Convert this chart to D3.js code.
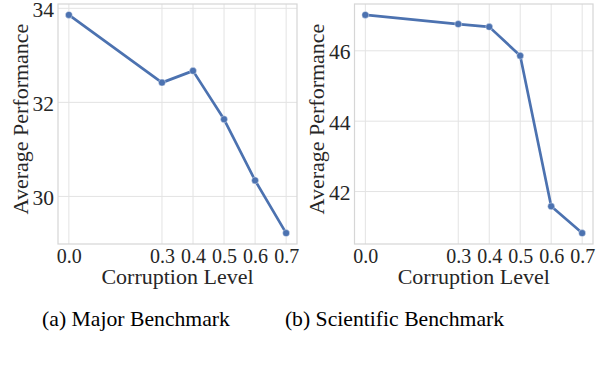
<!DOCTYPE html>
<html>
<head>
<meta charset="utf-8">
<script src="https://cdn.jsdelivr.net/npm/d3@7"></script>
<style>
  html, body { margin: 0; padding: 0; background: #fff; }
  svg { display: block; }
  text { font-family: "Liberation Serif", "Times New Roman", serif; fill: #262626; }
</style>
</head>
<body>
<svg id="chart" width="596" height="366"></svg>
<script>
const corruptionLevels = [0.0, 0.3, 0.4, 0.5, 0.6, 0.7];
const xTickLabels = ["0.0", "0.3", "0.4", "0.5", "0.6", "0.7"];
const majorValues = [33.86, 32.42, 32.67, 31.64, 30.34, 29.22];
const scientificValues = [47.02, 46.76, 46.68, 45.86, 41.58, 40.82];
const majorYTicks = [30, 32, 34];
const scientificYTicks = [42, 44, 46];
const captions = ["(a) Major Benchmark", "(b) Scientific Benchmark"];
const xLabel = "Corruption Level";
const yLabel = "Average Performance";

const svg = d3.select("#chart");
const lineColor = "#4c72b0";
const gridColor = "#e3e3e3";

const panels = [
  { values: majorValues, yTicks: majorYTicks, caption: captions[0], left: 58, right: 297, capX: 136 },
  { values: scientificValues, yTicks: scientificYTicks, caption: captions[1], left: 354.5, right: 593, capX: 394.5 }
];
const plotTop = 4, plotBottom = 244;

panels.forEach(p => {
  const g = svg.append("g");
  const xmin = d3.min(corruptionLevels), xmax = d3.max(corruptionLevels);
  const xm = (xmax - xmin) * 0.05;
  const x = d3.scaleLinear().domain([xmin - xm, xmax + xm]).range([p.left, p.right]);
  const ymin = d3.min(p.values), ymax = d3.max(p.values);
  const ym = (ymax - ymin) * 0.05;
  const y = d3.scaleLinear().domain([ymin - ym, ymax + ym]).range([plotBottom, plotTop]);

  // grid
  g.append("g").selectAll("line").data(corruptionLevels).join("line")
    .attr("x1", d => x(d)).attr("x2", d => x(d))
    .attr("y1", plotTop).attr("y2", plotBottom)
    .attr("stroke", gridColor).attr("stroke-width", 1);
  g.append("g").selectAll("line").data(p.yTicks).join("line")
    .attr("x1", p.left).attr("x2", p.right)
    .attr("y1", d => y(d)).attr("y2", d => y(d))
    .attr("stroke", gridColor).attr("stroke-width", 1);

  // frame
  g.append("rect").attr("x", p.left).attr("y", plotTop)
    .attr("width", p.right - p.left).attr("height", plotBottom - plotTop)
    .attr("fill", "none").attr("stroke", "#d6d6d6").attr("stroke-width", 1.2);

  // axes (no tick marks, labels only)
  const xAxis = d3.axisBottom(x).tickValues(corruptionLevels)
    .tickFormat((d, i) => xTickLabels[i]).tickSize(0).tickPadding(0);
  const xa = g.append("g").attr("transform", `translate(0,${plotBottom})`).call(xAxis);
  xa.select(".domain").remove();
  xa.selectAll("text").attr("font-size", "20px").attr("dy", null).attr("y", 18.5)
    .style("font-family", '"Liberation Serif", serif').attr("fill", "#262626");

  const yAxis = d3.axisLeft(y).tickValues(p.yTicks).tickFormat(d3.format("d")).tickSize(0).tickPadding(4);
  const ya = g.append("g").attr("transform", `translate(${p.left},0)`).call(yAxis);
  ya.select(".domain").remove();
  ya.selectAll("text").attr("font-size", "21.5px").attr("dy", "0.38em")
    .style("font-family", '"Liberation Serif", serif').attr("fill", "#262626");

  // line
  const line = d3.line().x((d, i) => x(corruptionLevels[i])).y(d => y(d));
  g.append("path").datum(p.values).attr("d", line)
    .attr("fill", "none").attr("stroke", lineColor).attr("stroke-width", 2.7)
    .attr("stroke-linejoin", "round");
  g.append("g").selectAll("circle").data(p.values).join("circle")
    .attr("cx", (d, i) => x(corruptionLevels[i])).attr("cy", d => y(d))
    .attr("r", 3.5).attr("fill", lineColor).attr("stroke", "#ffffff").attr("stroke-width", 0.4);

  // axis labels
  const cx = (p.left + p.right) / 2;
  g.append("text").attr("x", cx).attr("y", 283.5).attr("text-anchor", "middle")
    .attr("font-size", "22px").text(xLabel);
  g.append("text").attr("transform", `translate(${p.left - 30.5},${(plotTop + plotBottom) / 2 - 5}) rotate(-90)`)
    .attr("text-anchor", "middle").attr("font-size", "22px").text(yLabel);

  // caption
  g.append("text").attr("x", p.capX).attr("y", 326).attr("text-anchor", "middle")
    .attr("font-size", "21.7px").style("fill", "#000").text(p.caption);
});
</script>
</body>
</html>
